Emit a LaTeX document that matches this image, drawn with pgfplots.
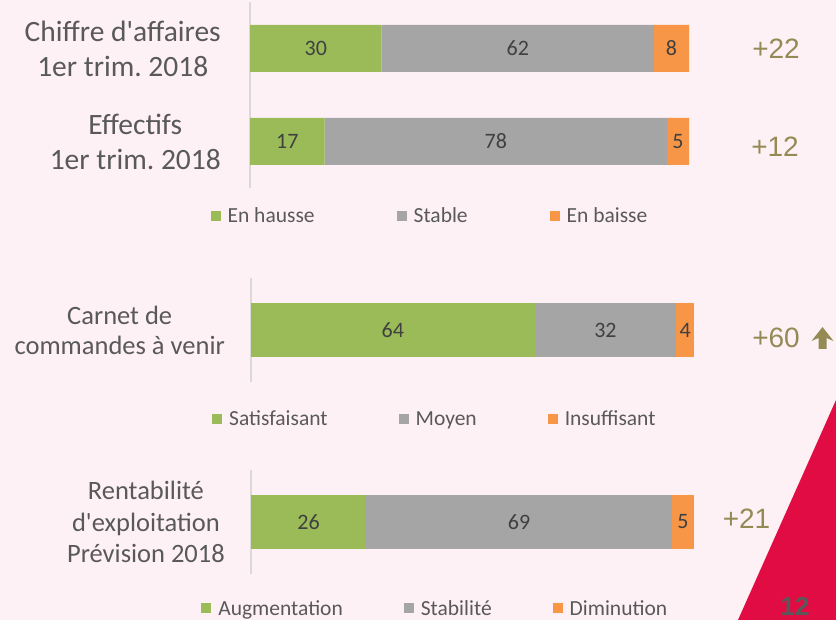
\documentclass[border=0pt]{standalone}
\usepackage{pgfplots}
\pgfplotsset{compat=1.18}
\usepackage{pgfplotstable}
\usepackage{fontspec}
\setmainfont{Carlito}[Ligatures=TeXOff]
\newfontfamily\arialf{Liberation Sans}
\frenchspacing
\definecolor{bg}{RGB}{254,241,245}
\definecolor{cgreen}{RGB}{155,187,89}
\definecolor{cgray}{RGB}{165,165,165}
\definecolor{corange}{RGB}{247,150,70}
\definecolor{colive}{RGB}{148,138,84}
\definecolor{ctext}{RGB}{89,89,89}
\definecolor{cnum}{RGB}{64,64,64}
\definecolor{cred}{RGB}{226,12,69}
\definecolor{caxis}{RGB}{217,217,217}

\pgfplotstableread{
y a b c
0 30 62 8
1 17 78 5
}\dataA
\pgfplotstableread{
y a b c
0 64 32 4
}\dataB
\pgfplotstableread{
y a b c
0 26 69 5
}\dataC

\pgfplotsset{
  grpstyle/.style={
    xbar stacked, scale only axis, xmin=0, xmax=100, enlargelimits=false,
    axis x line=none, axis y line*=left,
    y axis line style={draw=caxis, line width=1.5pt},
    y dir=reverse, major tick length=0pt, ytick style={draw=none},
    yticklabel style={align=center, text=ctext, inner sep=0pt},
    /pgf/number format/assume math mode=true,
    legend columns=3,
    legend style={draw=none, fill=none, font=\fontsize{21.5pt}{25pt}\selectfont,
      text=ctext, anchor=center, legend cell align=left,
      /tikz/every odd column/.append style={column sep=5pt}},
    legend image code/.code={\fill[##1] (0pt,-5pt) rectangle (10pt,5pt);},
    nodes near coords, point meta=explicit,
    every node near coord/.append style={anchor=center, text=cnum,
      font=\fontsize{22pt}{26pt}\selectfont},
  },
  seg/.style={fill=#1, draw=none, forget plot},
}

\begin{document}
\begin{tikzpicture}[x=1pt,y=1pt]
\fill[bg] (0,0) rectangle (836,620);
\useasboundingbox (0,0) rectangle (836,620);
\fill[cred] (836,220) -- (738,0) -- (836,0) -- cycle;

% Group 1
\begin{axis}[grpstyle, at={(250pt,432pt)}, anchor=south west,
  width=439pt, height=186pt, ymin=-0.5, ymax=1.5, bar width=47pt,
  ytick={0,1},
  yticklabels={{Chiffre d'affaires\\1er trim. 2018},{Effectifs\\1er trim. 2018}},
  yticklabel style={font=\fontsize{29.5pt}{35pt}\selectfont, xshift=-29pt},
  legend style={at={(0.41,-0.1505)},
    /tikz/every even column/.append style={column sep=80pt}}]
\addplot[seg=cgreen] table[x=a, y=y, meta=a]{\dataA};
\addplot[seg=cgray] table[x=b, y=y, meta=b]{\dataA};
\addplot[seg=corange] table[x=c, y=y, meta=c]{\dataA};
\addlegendimage{fill=cgreen, draw=none}\addlegendentry{En hausse}
\addlegendimage{fill=cgray, draw=none}\addlegendentry{Stable}
\addlegendimage{fill=corange, draw=none}\addlegendentry{En baisse}
\end{axis}

% Group 2
\begin{axis}[grpstyle, at={(251pt,238pt)}, anchor=south west,
  width=443pt, height=104pt, ymin=-0.5, ymax=0.5, bar width=54pt,
  ytick={0},
  yticklabels={{Carnet de\\commandes à venir}},
  yticklabel style={font=\fontsize{26.5pt}{30pt}\selectfont, xshift=-26pt},
  legend style={at={(0.415,-0.356)},
    /tikz/every even column/.append style={column sep=69pt}}]
\addplot[seg=cgreen] table[x=a, y=y, meta=a]{\dataB};
\addplot[seg=cgray] table[x=b, y=y, meta=b]{\dataB};
\addplot[seg=corange] table[x=c, y=y, meta=c]{\dataB};
\addlegendimage{fill=cgreen, draw=none}\addlegendentry{Satisfaisant}
\addlegendimage{fill=cgray, draw=none}\addlegendentry{Moyen}
\addlegendimage{fill=corange, draw=none}\addlegendentry{Insuffisant}
\end{axis}

% Group 3
\begin{axis}[grpstyle, at={(251pt,46pt)}, anchor=south west,
  width=443pt, height=104pt, ymin=-0.5, ymax=0.5, bar width=54pt,
  ytick={0},
  yticklabels={{Rentabilité\\d'exploitation\\Prévision 2018}},
  yticklabel style={font=\fontsize{26.5pt}{31.5pt}\selectfont, xshift=-26pt},
  legend style={at={(0.416,-0.33)},
    /tikz/every even column/.append style={column sep=59pt}}]
\addplot[seg=cgreen] table[x=a, y=y, meta=a]{\dataC};
\addplot[seg=cgray] table[x=b, y=y, meta=b]{\dataC};
\addplot[seg=corange] table[x=c, y=y, meta=c]{\dataC};
\addlegendimage{fill=cgreen, draw=none}\addlegendentry{Augmentation}
\addlegendimage{fill=cgray, draw=none}\addlegendentry{Stabilité}
\addlegendimage{fill=corange, draw=none}\addlegendentry{Diminution}
\end{axis}

% Balances
\node[text=colive, font=\arialf\fontsize{28pt}{30pt}\selectfont] at (776,571) {+22};
\node[text=colive, font=\arialf\fontsize{28pt}{30pt}\selectfont] at (775,473) {+12};
\node[text=colive, font=\arialf\fontsize{28pt}{30pt}\selectfont] at (776,282) {+60};
\fill[colive] (822.5,293) -- (833.5,279) -- (826.5,282) -- (826.5,271) -- (818.5,271) -- (818.5,282) -- (811.5,279) -- cycle;
\node[text=colive, font=\arialf\fontsize{28pt}{30pt}\selectfont] at (746.5,101) {+21};
\node[text=ctext, font=\arialf\bfseries\fontsize{26pt}{30pt}\selectfont, anchor=base] at (795,4) {12};
\end{tikzpicture}
\end{document}
